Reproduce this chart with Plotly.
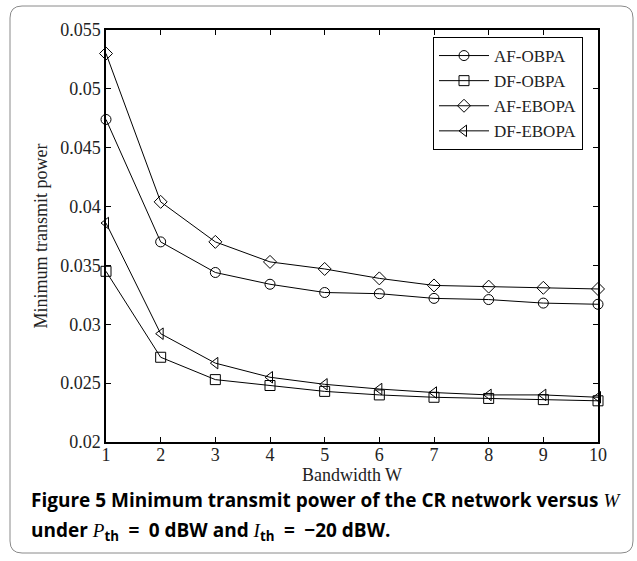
import plotly.graph_objects as go

W = [1, 2, 3, 4, 5, 6, 7, 8, 9, 10]
af_obpa = [0.0474, 0.0370, 0.0344, 0.0334, 0.0327, 0.0326, 0.0322, 0.0321, 0.0318, 0.0317]
df_obpa = [0.0345, 0.0272, 0.0253, 0.0248, 0.0243, 0.0240, 0.0238, 0.0237, 0.0236, 0.0235]
af_ebopa = [0.0530, 0.0404, 0.0370, 0.0353, 0.0347, 0.0339, 0.0333, 0.0332, 0.0331, 0.0330]
df_ebopa = [0.0386, 0.0292, 0.0267, 0.0255, 0.0249, 0.0245, 0.0242, 0.0240, 0.0240, 0.0238]
names = ["AF-OBPA", "DF-OBPA", "AF-EBOPA", "DF-EBOPA"]
symbols = ["circle-open", "square-open", "diamond-open", "triangle-left-open"]
series = [af_obpa, df_obpa, af_ebopa, df_ebopa]
y_ticks = [0.02, 0.025, 0.03, 0.035, 0.04, 0.045, 0.05, 0.055]
y_ticktext = ["0.02", "0.025", "0.03", "0.035", "0.04", "0.045", "0.05", "0.055"]

FW, FH = 637, 561
L, R, T, B = 106, 39, 30, 119
PW, PH = FW - L - R, FH - T - B

def px(x):
    return (x - L) / PW

def py(y):
    return (FH - B - y) / PH

fig = go.Figure()
for n, s, v in zip(names, symbols, series):
    fig.add_trace(go.Scatter(
        x=W, y=v, name=n, mode="lines+markers", cliponaxis=False,
        line=dict(color="black", width=1),
        marker=dict(symbol=s, size=10, color="black", line=dict(color="black", width=1)),
    ))

serif = "Liberation Serif"
txt = "#222"
axis_common = dict(
    showline=True, linecolor="black", linewidth=1.5, mirror="ticks",
    ticks="inside", ticklen=5, tickcolor="black", tickwidth=1,
    showgrid=False, zeroline=False,
    tickfont=dict(family=serif, size=18, color=txt),
)
fig.update_xaxes(range=[1, 10], tickmode="array", tickvals=W, ticklabelstandoff=-4,
                 title=dict(text="Bandwidth W", font=dict(family=serif, size=18, color=txt), standoff=0),
                 **axis_common)
fig.update_yaxes(range=[0.02, 0.055], tickmode="array",
                 tickvals=y_ticks, ticktext=y_ticktext,
                 title=dict(text="Minimum transmit power", font=dict(family=serif, size=18, color=txt), standoff=8),
                 **axis_common)

# rounded outer frame
x0, x1, y0, y1, r = 10, 633, 6, 553, 12
def P(x, y):
    return f"{px(x):.5f},{py(y):.5f}"
path = (f"M {P(x0 + r, y0)} L {P(x1 - r, y0)} Q {P(x1, y0)} {P(x1, y0 + r)} "
        f"L {P(x1, y1 - r)} Q {P(x1, y1)} {P(x1 - r, y1)} "
        f"L {P(x0 + r, y1)} Q {P(x0, y1)} {P(x0, y1 - r)} "
        f"L {P(x0, y0 + r)} Q {P(x0, y0)} {P(x0 + r, y0)} Z")
fig.add_shape(type="path", path=path, xref="paper", yref="paper",
              line=dict(color="#8a8a8a", width=1), layer="below")

cap_font = dict(family="Open Sans", size=19, color="black")
sp = "\u2002"
fig.add_annotation(
    x=px(29), y=py(500), xref="paper", yref="paper", xanchor="left", yanchor="middle",
    showarrow=False, font=cap_font, align="left",
    text="<b>Figure 5 Minimum transmit power of the CR network versus </b><i><span style='font-family:Liberation Serif'>W</span></i>",
)
fig.add_annotation(
    x=px(29), y=py(531), xref="paper", yref="paper", xanchor="left", yanchor="middle",
    showarrow=False, font=cap_font, align="left",
    text=("<b>under </b><i><span style='font-family:Liberation Serif'>P</span></i><b><sub>th</sub>"
          f"{sp}={sp}0 dBW and </b>"
          "<i><span style='font-family:Liberation Serif'>I</span></i><b><sub>th</sub>"
          f"{sp}={sp}\u221220 dBW.</b>"),
)

fig.update_layout(
    width=FW, height=FH,
    margin=dict(l=L, r=R, t=T, b=B),
    paper_bgcolor="white", plot_bgcolor="white",
    showlegend=True,
    legend=dict(x=px(433), y=py(37), xanchor="left", yanchor="top",
                bgcolor="white", bordercolor="black", borderwidth=1,
                font=dict(family=serif, size=17, color=txt),
                tracegroupgap=0, itemwidth=50, entrywidth=140),
)
fig.write_html("out.html")
